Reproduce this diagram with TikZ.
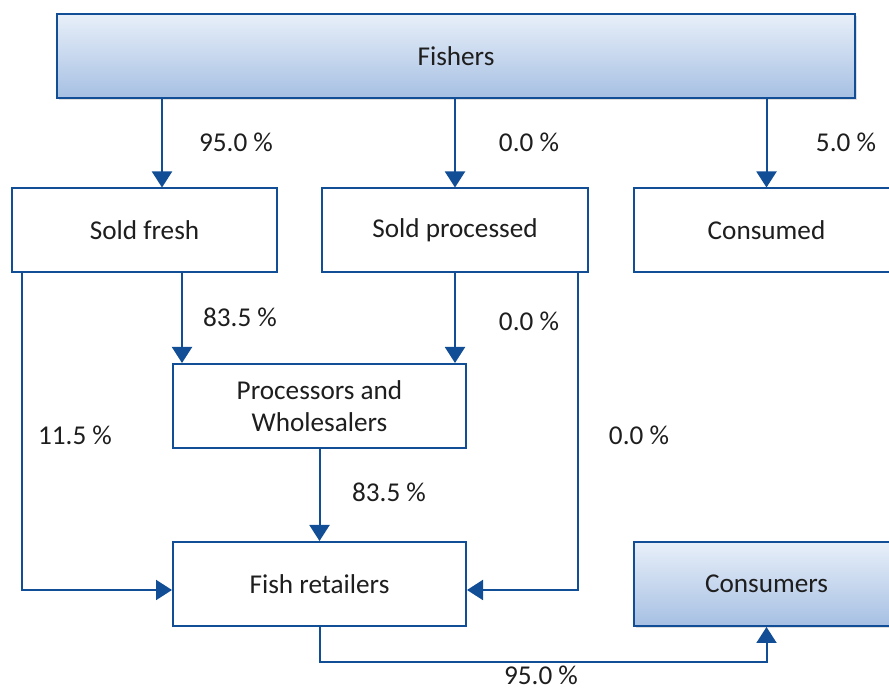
\documentclass[tikz,border=0pt]{standalone}
\usepackage{fontspec}
\setmainfont{Carlito}
\usetikzlibrary{arrows.meta,shadows}
\definecolor{boxblue}{RGB}{18,78,150}
\definecolor{fadetop}{RGB}{232,239,249}
\definecolor{fadebot}{RGB}{166,192,227}
\definecolor{txtgray}{RGB}{30,30,30}

\begin{document}
\begin{tikzpicture}[x=0.5pt,y=-0.5pt,
  font=\fontsize{13.6}{16}\selectfont, text=txtgray,
  stage/.style={draw=boxblue,line width=1pt,fill=white,minimum height=42pt,align=center},
  endpoint/.style={stage,top color=fadetop,bottom color=fadebot,
    drop shadow={shadow xshift=1pt,shadow yshift=-1pt,opacity=0.25}},
  flow/.style={draw=boxblue,line width=1pt,-{Triangle[length=8pt,width=10pt]}},
  share/.style={inner sep=0pt}]
\useasboundingbox (0,0) rectangle (889,688);

\coordinate (c1) at (162,0);
\coordinate (c4) at (182,0);
\coordinate (c5) at (22,0);
\coordinate (c6) at (578,0);

\node[endpoint,minimum width=399pt] (fishers) at (456,56) {Fishers};
\node[stage,minimum width=132.5pt] (fresh) at (144.5,230.5) {Sold fresh};
\node[stage,minimum width=133pt] (processed) at (455,230.5) {Sold processed};
\node[stage,minimum width=133pt] (consumed) at (766.5,230.5) {Consumed};
\node[stage,minimum width=146.5pt] (procwhole) at (319.5,406) {Processors and\\Wholesalers};
\node[stage,minimum width=146.5pt] (retailers) at (319.5,584) {Fish retailers};
\node[endpoint,minimum width=133pt] (consumers) at (766.5,584) {Consumers};

\draw[flow] (fishers.south -| c1) -- (fresh.north -| c1);
\draw[flow] (fishers.south -| processed.north) -- (processed.north);
\draw[flow] (fishers.south -| consumed.north) -- (consumed.north);
\draw[flow] (fresh.south -| c4) -- (procwhole.north -| c4);
\draw[flow] (processed.south) -- (procwhole.north -| processed.south);
\draw[flow] (fresh.south -| c5) |- ([yshift=-3pt]retailers.west);
\draw[flow] (processed.south -| c6) |- ([yshift=-3pt]retailers.east);
\draw[flow] (procwhole.south) -- (retailers.north);
\draw[flow] (retailers.south) -- ++(0,35) -| (consumers.south);

\node[share] (p1) at (236,142) {95.0 \%};
\node[share] (p2) at (529,142) {0.0 \%};
\node[share] (p3) at (846,142) {5.0 \%};
\node[share] (p4) at (240,317) {83.5 \%};
\node[share] (p5) at (529,321) {0.0 \%};
\node[share] (p6) at (75,435) {11.5 \%};
\node[share] (p7) at (639,435) {0.0 \%};
\node[share] (p8) at (389,492) {83.5 \%};
\node[share] (p9) at (541,675) {95.0 \%};
\end{tikzpicture}
\end{document}
